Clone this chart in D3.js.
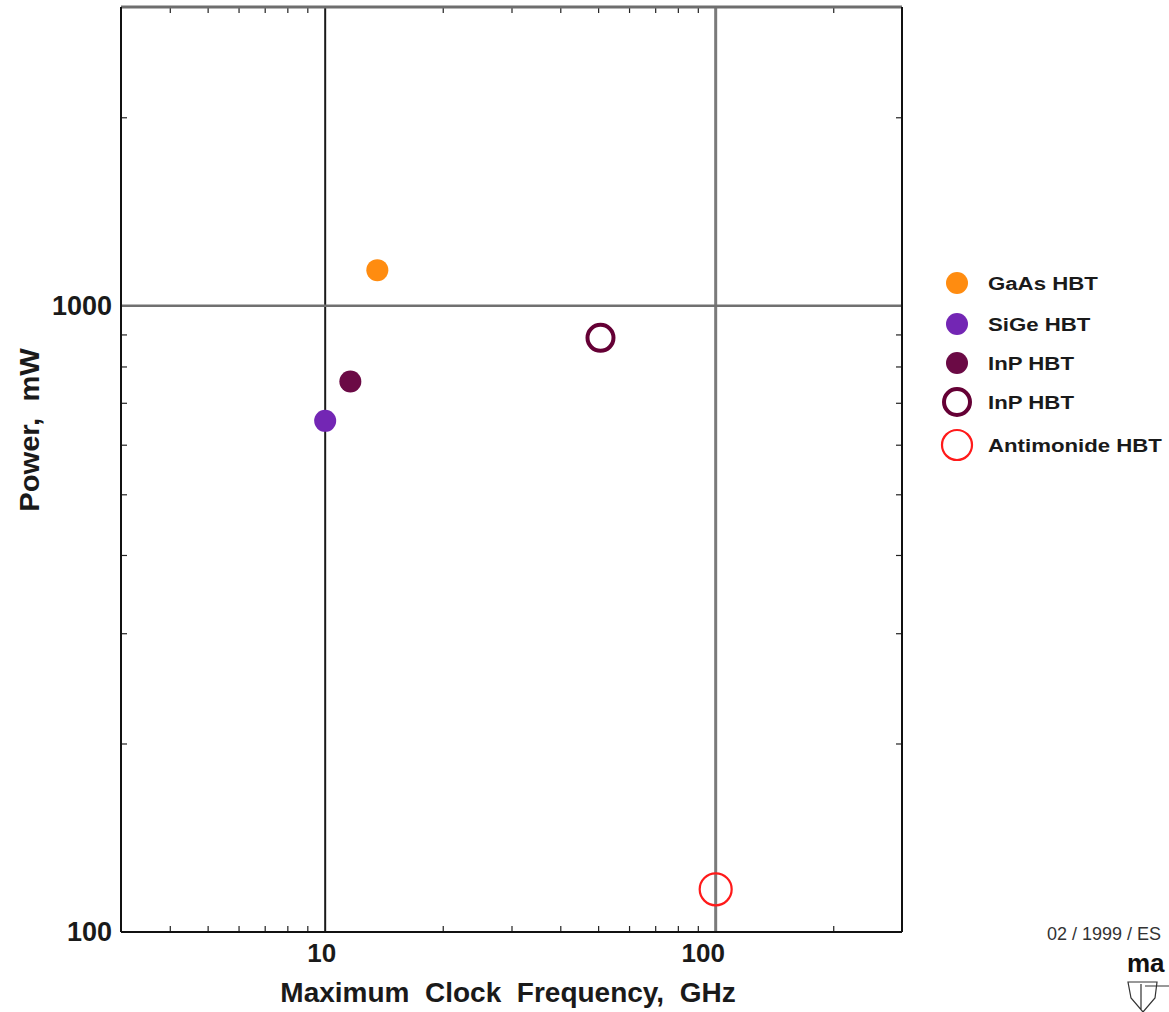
<!DOCTYPE html>
<html>
<head>
<meta charset="utf-8">
<script src="https://cdn.jsdelivr.net/npm/d3@7"></script>
<style>
  body { margin: 0; background: #ffffff; overflow: hidden; }
  text { font-family: "Liberation Sans", Arial, Helvetica, sans-serif; }
</style>
</head>
<body>
<div id="chart"></div>
<script>
// Data
const seriesNames = ['GaAs HBT', 'SiGe HBT', 'InP HBT', 'InP HBT', 'Antimonide HBT'];
const clockFreqGHz = [13.6, 10, 11.6, 50.7, 100];
const powerMW = [1140, 655, 757, 889, 117];

const xLabelTicks = [10, 100];
const yLabelTicks = [100, 1000];
const xMinorTicks = [4, 5, 6, 7, 8, 9, 20, 30, 40, 50, 60, 70, 80, 90, 200];
const yMinorTicks = [200, 300, 400, 500, 600, 700, 800, 900, 2000];

// marker look per series (filled dot or open ring)
const markerStyle = [
  { color: '#ff8c10', open: false },
  { color: '#7326b4', open: false },
  { color: '#6b0a45', open: false },
  { color: '#650035', open: true, r: 13, sw: 4 },
  { color: '#ff1a1a', open: true, r: 16, sw: 2.2 }
];

const W = 1169, H = 1012;
const margin = { top: 7, right: 267, bottom: 80, left: 121 };
const width = W - margin.left - margin.right;   // 781
const height = H - margin.top - margin.bottom;  // 925

const svg = d3.select('#chart')
  .append('svg')
  .attr('width', W)
  .attr('height', H);

const g = svg.append('g')
  .attr('transform', `translate(${margin.left},${margin.top})`);

// Scales
const x = d3.scaleLog().domain([3, 300]).range([0, width]);
const y = d3.scaleLog().domain([100, 3000]).range([height, 0]);

// Grid lines at the decades
g.append('line')
  .attr('x1', x(10)).attr('x2', x(10))
  .attr('y1', 0).attr('y2', height)
  .attr('stroke', '#1a1a1a').attr('stroke-width', 2);

g.append('line')
  .attr('x1', x(100)).attr('x2', x(100))
  .attr('y1', 0).attr('y2', height)
  .attr('stroke', '#7a7a7a').attr('stroke-width', 3);

g.append('line')
  .attr('x1', 0).attr('x2', width)
  .attr('y1', y(1000)).attr('y2', y(1000))
  .attr('stroke', '#707070').attr('stroke-width', 2.5);

// Minor ticks, pointing inwards on all four sides
function minorAxis(axis, transform) {
  const a = g.append('g')
    .attr('transform', transform)
    .call(axis.tickSizeInner(-6).tickSizeOuter(0).tickFormat(''));
  a.select('.domain').remove();
  a.selectAll('line').attr('stroke', '#222').attr('stroke-width', 1.2);
}
minorAxis(d3.axisBottom(x).tickValues(xMinorTicks), `translate(0,${height})`);
minorAxis(d3.axisTop(x).tickValues(xMinorTicks), 'translate(0,0)');
minorAxis(d3.axisLeft(y).tickValues(yMinorTicks), 'translate(0,0)');
minorAxis(d3.axisRight(y).tickValues(yMinorTicks), `translate(${width},0)`);

// Frame
g.append('line').attr('x1', 0).attr('x2', width).attr('y1', 0).attr('y2', 0)
  .attr('stroke', '#6e6e6e').attr('stroke-width', 3);
g.append('line').attr('x1', 0).attr('x2', 0).attr('y1', 0).attr('y2', height)
  .attr('stroke', '#111').attr('stroke-width', 2);
g.append('line').attr('x1', width).attr('x2', width).attr('y1', 0).attr('y2', height)
  .attr('stroke', '#111').attr('stroke-width', 2);
g.append('line').attr('x1', 0).attr('x2', width).attr('y1', height).attr('y2', height)
  .attr('stroke', '#111').attr('stroke-width', 2);

// Labelled ticks
const xAxis = g.append('g')
  .attr('transform', `translate(0,${height})`)
  .call(d3.axisBottom(x).tickValues(xLabelTicks).tickFormat(d3.format('d')).tickSize(0).tickPadding(12));
xAxis.select('.domain').remove();
xAxis.selectAll('text')
  .attr('font-size', 26).attr('font-weight', 'bold').attr('fill', '#1a1a1a')
  .attr('dx', d => d === 10 ? -4 : -13)
  .style('font-family', '"Liberation Sans", Arial, sans-serif');

const yAxis = g.append('g')
  .call(d3.axisLeft(y).tickValues(yLabelTicks).tickFormat(d3.format('d')).tickSize(0).tickPadding(9));
yAxis.select('.domain').remove();
yAxis.selectAll('text')
  .attr('font-size', 27).attr('font-weight', 'bold').attr('fill', '#1a1a1a')
  .style('font-family', '"Liberation Sans", Arial, sans-serif');

// Axis titles
svg.append('text')
  .attr('x', 508)
  .attr('y', 1002)
  .attr('text-anchor', 'middle')
  .attr('font-size', 28).attr('font-weight', 'bold').attr('fill', '#1a1a1a')
  .style('white-space', 'pre')
  .text('Maximum  Clock  Frequency,  GHz');

svg.append('text')
  .attr('transform', 'translate(39,430) rotate(-90) scale(1.08,1)')
  .attr('text-anchor', 'middle')
  .attr('font-size', 27).attr('font-weight', 'bold').attr('fill', '#1a1a1a')
  .style('white-space', 'pre')
  .text('Power,  mW');

// Points
const points = seriesNames.map((name, i) => ({
  name, f: clockFreqGHz[i], p: powerMW[i], style: markerStyle[i]
}));

g.selectAll('circle.pt')
  .data(points)
  .join('circle')
  .attr('class', 'pt')
  .attr('cx', d => x(d.f))
  .attr('cy', d => y(d.p))
  .attr('r', d => d.style.open ? d.style.r : 11)
  .attr('fill', d => d.style.open ? 'none' : d.style.color)
  .attr('stroke', d => d.style.open ? d.style.color : 'none')
  .attr('stroke-width', d => d.style.open ? d.style.sw : 0);

// Legend
const legend = svg.append('g')
  .attr('transform', 'translate(957,283)');

const rows = legend.selectAll('g.row')
  .data(points)
  .join('g')
  .attr('class', 'row')
  .attr('transform', (d, i) => `translate(0,${[0, 41, 80, 119, 162][i]})`);

rows.append('circle')
  .attr('r', d => d.style.open ? (d.style.r === 16 ? 15 : 13) : 11)
  .attr('fill', d => d.style.open ? 'none' : d.style.color)
  .attr('stroke', d => d.style.open ? d.style.color : 'none')
  .attr('stroke-width', d => d.style.open ? d.style.sw : 0);

rows.append('text')
  .attr('transform', 'translate(31,7) scale(1.17,1)')
  .attr('font-size', 19).attr('font-weight', 'bold').attr('fill', '#1a1a1a')
  .text(d => d.name);

// Footer stamp (only the part visible in the original)
svg.append('text')
  .attr('x', 1047).attr('y', 940)
  .attr('font-size', 18).attr('fill', '#333')
  .text('02 / 1999 / ES');

svg.append('text')
  .attr('x', 1127).attr('y', 972)
  .attr('font-size', 26).attr('font-weight', 'bold').attr('fill', '#111')
  .text('ma');

svg.append('path')
  .attr('d', 'M1128,982 L1157,982 L1155,998 L1143,1012 L1131,998 Z M1141,984 L1141,1010 M1145,986 L1169,986')
  .attr('fill', 'none').attr('stroke', '#333').attr('stroke-width', 1.2);
</script>
</body>
</html>
